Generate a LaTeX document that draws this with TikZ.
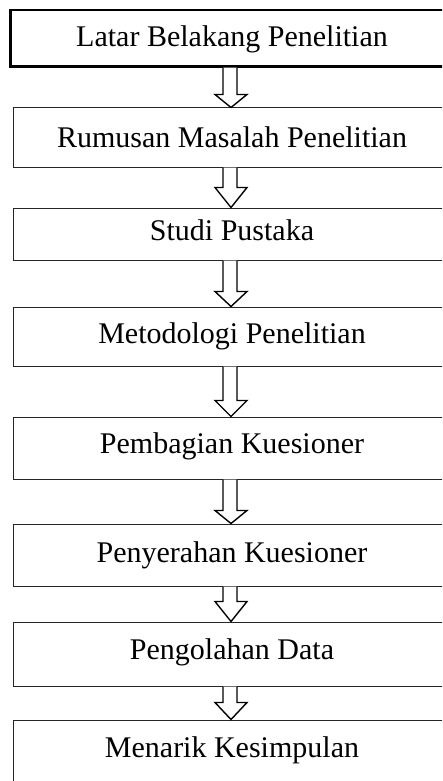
\documentclass[tikz,border=0pt]{standalone}
\usepackage{fontspec}
\setmainfont{Liberation Serif}
\usetikzlibrary{calc}
\tikzset{
  box/.style={draw=black!85, line width=1pt, rectangle, inner sep=0pt, minimum width=437pt},
  firstbox/.style={draw=black, line width=2.2pt, rectangle, inner sep=0pt, minimum width=439.5pt},
  lbl/.style={anchor=base, inner sep=0pt, font=\fontsize{30}{36}\selectfont},
  arr/.style={draw=black, line width=1.4pt, line join=miter, fill=white}
}
\newcommand\blockarr[3]{%
  \draw[arr] let \p1=(#1.south), \p2=(#2.north) in
    (223pt,\y1) -- (223pt,\y2+#3pt) -- (215pt,\y2+#3pt) -- (231pt,\y2)
    -- (247pt,\y2+#3pt) -- (237pt,\y2+#3pt) -- (237pt,\y1);}
\begin{document}
\begin{tikzpicture}[x=1pt,y=-1pt]
\useasboundingbox (0,0) rectangle (442,781);
\clip (0,0) rectangle (442,781);
\fill[white] (0,0) rectangle (442,781);
\node[firstbox, minimum height=56.5pt] (b1) at (230.25,38.25) {};
\node[box, minimum height=59pt] (b2) at (231.5,137.5) {};
\node[box, minimum height=52pt] (b3) at (231.5,234) {};
\node[box, minimum height=59pt] (b4) at (231.5,336.5) {};
\node[box, minimum height=62pt] (b5) at (231.5,448) {};
\node[box, minimum height=62pt] (b6) at (231.5,555) {};
\node[box, minimum height=64pt] (b7) at (231.5,654) {};
\node[box, minimum height=80pt] (b8) at (231.5,760) {};
\node[lbl] (t1) at (232,47) {Latar Belakang Penelitian};
\node[lbl] (t2) at (232,147) {Rumusan Masalah Penelitian};
\node[lbl] (t3) at (232,240) {Studi Pustaka};
\node[lbl] (t4) at (232,343) {Metodologi Penelitian};
\node[lbl] (t5) at (232,453) {Pembagian Kuesioner};
\node[lbl] (t6) at (232,562) {Penyerahan Kuesioner};
\node[lbl] (t7) at (232,659) {Pengolahan Data};
\node[lbl] (t8) at (232,757) {Menarik Kesimpulan};
\blockarr{b1}{b2}{13}
\blockarr{b2}{b3}{20}
\blockarr{b3}{b4}{15}
\blockarr{b4}{b5}{16}
\blockarr{b5}{b6}{13}
\blockarr{b6}{b7}{20}
\blockarr{b7}{b8}{17}
\end{tikzpicture}
\end{document}
